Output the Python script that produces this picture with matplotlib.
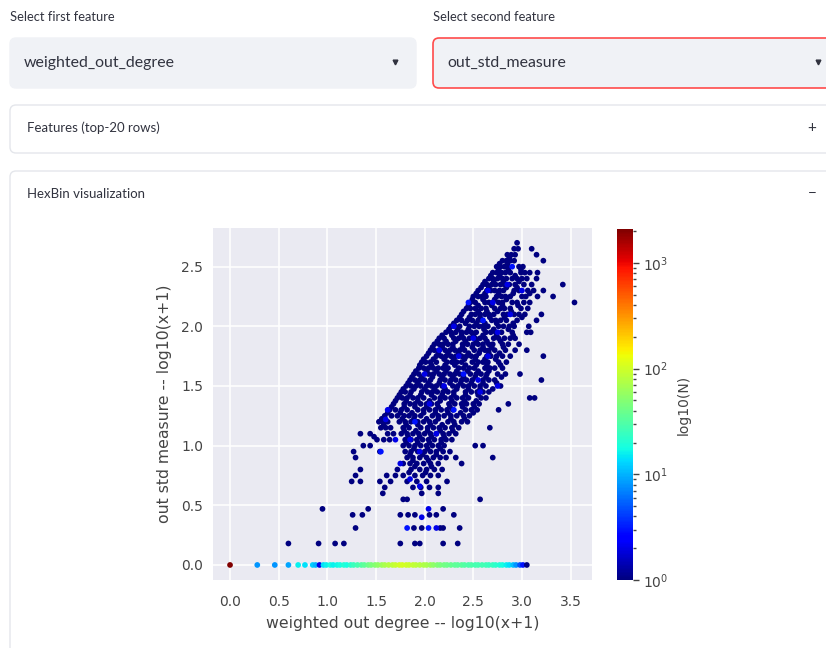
import matplotlib
matplotlib.use("Agg")
import matplotlib.pyplot as plt
from matplotlib.colors import LogNorm
from matplotlib.patches import FancyBboxPatch
import numpy as np

W, H = 826, 648

# ── Hexbin cells (bin centres, counts) ────────────────────────────────────────
# row of zero std (y = 0): x position and count per cell
zero_x = [0.00, 0.28, 0.46, 0.60, 0.70, 0.77, 0.85, 0.88, 0.92,
          0.96, 0.99, 1.03, 1.06, 1.10, 1.13, 1.17, 1.20, 1.24, 1.27,
          1.31, 1.35, 1.38, 1.42, 1.45, 1.49, 1.52, 1.56, 1.59, 1.63,
          1.67, 1.70, 1.74, 1.77, 1.81, 1.84, 1.88, 1.91, 1.95, 1.99,
          2.02, 2.06, 2.09, 2.13, 2.16, 2.20, 2.23, 2.27, 2.31, 2.34,
          2.38, 2.41, 2.45, 2.48, 2.52, 2.55, 2.59, 2.63, 2.66, 2.70,
          2.73, 2.77, 2.80, 2.84, 2.87, 2.91, 2.94, 2.98, 3.01, 3.05]
zero_n = [2100, 8, 8, 9, 16, 14, 12, 10, 2,
          14, 16, 18, 16, 17, 18, 20, 18, 22, 25,
          28, 32, 35, 40, 45, 50, 55, 62, 70, 78,
          85, 92, 100, 105, 100, 95, 90, 85, 80, 75,
          70, 62, 55, 50, 45, 42, 40, 38, 36, 35,
          33, 32, 30, 30, 28, 28, 27, 26, 25, 24,
          22, 20, 18, 16, 14, 11, 8, 5, 3, 1]

# single-count cells, grouped by row level
cloud_y = [2.70, 2.65, 2.60, 2.55, 2.50, 2.45, 2.40, 2.35, 2.30, 2.25,
           2.20, 2.15, 2.10, 2.05, 2.00, 1.95, 1.90, 1.85, 1.80, 1.75,
           1.70, 1.65, 1.60, 1.55, 1.50, 1.45, 1.40, 1.35, 1.30, 1.25,
           1.20, 1.15, 1.10, 1.05, 1.00, 0.95, 0.90, 0.85, 0.80, 0.75,
           0.70, 0.65, 0.60, 0.55, 0.47, 0.42, 0.31, 0.18]
cloud_x = [
    [2.95],
    [2.92, 2.96, 3.10],
    [2.85, 2.89, 2.93, 3.15],
    [2.80, 2.84, 2.88, 2.92, 3.22],
    [2.74, 2.78, 2.82, 2.86, 2.97, 3.01],
    [2.70, 2.74, 2.79, 2.83, 2.88, 2.99, 3.03, 3.08, 3.16],
    [2.66, 2.70, 2.75, 2.80, 2.84, 2.90, 2.95, 3.00, 3.05, 3.15],
    [2.60, 2.64, 2.69, 2.73, 2.78, 2.82, 2.87, 2.93, 3.02, 3.10, 3.42],
    [2.55, 2.64, 2.68, 2.72, 2.77, 2.81, 2.92, 2.97, 3.06, 3.12, 3.22],
    [2.50, 2.55, 2.59, 2.63, 2.74, 2.79, 2.83, 2.88, 3.00, 3.04, 3.16, 3.32],
    [2.47, 2.52, 2.62, 2.66, 2.70, 2.76, 2.80, 2.90, 2.95, 3.02, 3.08, 3.54],
    [2.43, 2.47, 2.52, 2.58, 2.63, 2.72, 2.78, 2.82, 2.88, 2.99, 3.06],
    [2.38, 2.48, 2.52, 2.57, 2.62, 2.66, 2.71, 2.81, 2.85, 2.92, 2.97, 3.03, 3.20],
    [2.33, 2.38, 2.44, 2.49, 2.55, 2.59, 2.69, 2.73, 2.78, 2.84, 2.95, 3.15],
    [2.27, 2.31, 2.36, 2.46, 2.51, 2.56, 2.60, 2.65, 2.76, 2.81, 2.87, 2.92, 3.07],
    [2.22, 2.27, 2.32, 2.38, 2.43, 2.48, 2.53, 2.63, 2.68, 2.73, 2.79, 2.90, 3.05, 3.09],
    [2.15, 2.20, 2.30, 2.35, 2.40, 2.46, 2.52, 2.57, 2.62, 2.71, 2.76, 2.82, 2.88, 2.93],
    [2.10, 2.15, 2.19, 2.24, 2.29, 2.39, 2.44, 2.50, 2.55, 2.60, 2.66, 2.70, 2.80, 2.86, 2.97],
    [2.06, 2.10, 2.15, 2.21, 2.26, 2.31, 2.36, 2.41, 2.51, 2.57, 2.62, 2.66, 2.72, 2.83, 2.93, 3.05],
    [2.02, 2.12, 2.17, 2.22, 2.27, 2.32, 2.38, 2.43, 2.48, 2.53, 2.64, 2.68, 2.74, 2.80, 2.88, 3.22],
    [1.97, 2.01, 2.06, 2.12, 2.23, 2.28, 2.33, 2.38, 2.49, 2.55, 2.60, 2.65, 2.76, 2.84],
    [1.94, 1.99, 2.04, 2.09, 2.14, 2.19, 2.24, 2.35, 2.40, 2.46, 2.51, 2.62, 2.67, 2.72, 2.80],
    [1.89, 1.94, 2.04, 2.09, 2.15, 2.20, 2.26, 2.31, 2.36, 2.47, 2.53, 2.58, 2.64, 2.75, 2.83, 2.98],
    [1.85, 1.90, 1.95, 2.00, 2.06, 2.16, 2.21, 2.27, 2.32, 2.38, 2.43, 2.49, 2.60, 2.66, 2.72, 3.20],
    [1.81, 1.86, 1.91, 1.96, 2.02, 2.07, 2.12, 2.18, 2.29, 2.34, 2.40, 2.45, 2.51, 2.57, 2.63, 2.78],
    [1.76, 1.80, 1.86, 1.97, 2.03, 2.08, 2.13, 2.19, 2.24, 2.30, 2.42, 2.48, 2.54, 2.60, 2.66],
    [1.72, 1.77, 1.82, 1.88, 1.93, 1.99, 2.10, 2.16, 2.21, 2.27, 2.33, 2.39, 2.45, 2.58, 2.63, 3.08, 3.13],
    [1.68, 1.79, 1.85, 1.90, 1.96, 2.02, 2.07, 2.13, 2.25, 2.31, 2.38, 2.43, 2.50, 2.56, 2.86],
    [1.64, 1.70, 1.76, 1.82, 1.93, 1.99, 2.05, 2.11, 2.17, 2.23, 2.29, 2.42, 2.48, 2.54, 2.76],
    [1.59, 1.66, 1.72, 1.79, 1.84, 1.90, 1.96, 2.08, 2.14, 2.20, 2.27, 2.33, 2.40, 2.46],
    [1.53, 1.57, 1.62, 1.74, 1.80, 1.86, 1.93, 1.99, 2.05, 2.11, 2.24, 2.30, 2.38, 2.44],
    [1.55, 1.60, 1.65, 1.78, 1.84, 1.96, 2.03, 2.09, 2.15, 2.21, 2.28, 2.35, 2.67],
    [1.34, 1.44, 1.62, 1.68, 1.76, 1.82, 1.88, 1.94, 2.00, 2.06, 2.12, 2.19, 2.25, 2.32],
    [1.51, 1.58, 1.64, 1.80, 1.86, 1.92, 1.98, 2.04, 2.10, 2.17, 2.22, 2.28],
    [1.37, 1.44, 1.78, 1.84, 1.90, 1.96, 2.02, 2.08, 2.14, 2.20, 2.52, 2.60],
    [1.27, 1.54, 1.80, 1.86, 1.93, 2.00, 2.06, 2.12, 2.19, 2.26],
    [1.29, 1.82, 1.88, 1.95, 2.02, 2.09, 2.16, 2.22, 2.32, 2.70],
    [1.78, 1.85, 1.92, 1.99, 2.06, 2.14, 2.38],
    [1.34, 1.72, 1.86, 1.95, 2.02, 2.10, 2.18],
    [1.29, 1.61, 1.70, 1.78, 1.90, 1.98, 2.06, 2.14],
    [1.25, 1.34, 1.54, 1.65, 1.82, 1.92, 2.02, 2.23],
    [1.59, 1.88, 1.96, 2.05, 2.14],
    [1.57, 1.97, 2.14],
    [1.78, 1.82, 2.57],
    [0.95, 1.42, 2.19],
    [1.26, 1.36, 1.75, 1.83, 1.90, 2.05, 2.12, 2.30],
    [1.29, 1.89, 1.97, 2.16, 2.19, 2.36],
    [0.60, 0.91, 1.08, 1.17, 1.75, 1.90, 1.95, 2.19, 2.34],
]

# offset lattice of single-count cells (half a row up)
cloud_y2 = [2.575, 2.525, 2.475, 2.425, 2.375, 2.325, 2.275, 2.225, 2.175, 2.125,
            2.075, 2.025, 1.975, 1.925, 1.875, 1.825, 1.775, 1.725, 1.675, 1.625,
            1.575, 1.525, 1.475, 1.425, 1.375, 1.325, 1.275, 1.225, 1.175, 1.125,
            1.075, 1.025, 0.975, 0.925, 0.875, 0.825, 0.775]
cloud_x2 = [
    [2.87],
    [2.77, 2.85],
    [2.76, 2.86, 2.99],
    [2.68, 2.77, 2.93],
    [2.62, 2.71, 2.81, 2.97],
    [2.58, 2.66, 2.84, 2.95],
    [2.53, 2.62, 2.76, 2.91, 3.08],
    [2.49, 2.60, 2.72, 2.84],
    [2.45, 2.55, 2.69, 2.80, 2.96],
    [2.40, 2.55, 2.64, 2.75, 2.89],
    [2.36, 2.46, 2.57, 2.67, 2.82, 3.00],
    [2.30, 2.42, 2.53, 2.62, 2.74, 2.91],
    [2.25, 2.34, 2.45, 2.61, 2.71, 2.86],
    [2.18, 2.28, 2.38, 2.50, 2.60, 2.74, 2.91],
    [2.13, 2.22, 2.32, 2.42, 2.53, 2.64, 2.78],
    [2.08, 2.18, 2.29, 2.39, 2.49, 2.60, 2.69, 2.81],
    [2.04, 2.14, 2.24, 2.35, 2.45, 2.56, 2.66, 2.77],
    [1.99, 2.09, 2.20, 2.30, 2.41, 2.52, 2.62, 2.73],
    [1.95, 2.07, 2.21, 2.31, 2.42, 2.53, 2.64, 2.78],
    [1.91, 2.02, 2.12, 2.22, 2.33, 2.44, 2.55, 2.66],
    [1.87, 1.97, 2.08, 2.18, 2.29, 2.40, 2.52, 2.63, 2.79],
    [1.83, 1.93, 2.04, 2.15, 2.26, 2.37, 2.48, 2.60, 2.74],
    [1.78, 1.89, 2.00, 2.10, 2.21, 2.33, 2.45, 2.57, 2.70],
    [1.74, 1.85, 1.96, 2.07, 2.18, 2.30, 2.42, 2.55],
    [1.70, 1.81, 1.93, 2.05, 2.16, 2.28, 2.41, 2.53],
    [1.66, 1.79, 1.90, 2.02, 2.14, 2.26, 2.39, 2.51],
    [1.62, 1.75, 1.87, 1.99, 2.11, 2.24, 2.37, 2.50],
    [1.56, 1.77, 1.89, 2.02, 2.14, 2.27, 2.41],
    [1.58, 1.81, 1.93, 2.06, 2.18, 2.31],
    [1.79, 1.91, 2.03, 2.16, 2.29],
    [1.48, 1.83, 1.95, 2.07, 2.20],
    [1.81, 1.93, 2.05, 2.17],
    [1.89, 2.03, 2.16],
    [1.85, 1.98, 2.12],
    [1.88, 2.04],
    [1.90, 2.07],
    [1.84, 2.01],
]

# cells holding 2-3 rows
multi_x = [2.85, 2.60, 2.50, 2.35, 2.40, 2.20, 2.05, 1.90, 1.85, 1.75,
           1.85, 1.95, 1.60, 1.55, 2.65, 2.75, 2.70, 2.45, 2.30, 2.55,
           2.75, 2.04, 2.04, 1.82, 1.97, 2.12, 2.00, 2.15, 2.30, 1.70,
           1.95, 2.65, 2.90, 3.00, 2.57, 2.88, 2.12, 1.62]
multi_y = [2.35, 2.05, 1.90, 1.75, 1.60, 1.50, 1.35, 1.20, 1.05, 0.85,
           0.72, 0.66, 1.22, 0.95, 1.75, 1.95, 2.20, 2.20, 2.00, 1.55,
           1.50, 0.47, 0.31, 0.31, 0.40, 0.31, 1.60, 1.80, 1.30, 1.05,
           0.95, 2.30, 2.50, 2.30, 1.45, 2.10, 1.10, 1.30]
multi_n = [2, 3, 2, 2, 3, 2, 2, 3, 2, 2,
           2, 2, 2, 3, 2, 2, 2, 3, 2, 2,
           2, 2, 3, 3, 2, 2, 2, 2, 3, 2,
           2, 2, 3, 2, 2, 2, 2, 2]

x_ticks = [0.0, 0.5, 1.0, 1.5, 2.0, 2.5, 3.0, 3.5]
y_ticks = [0.0, 0.5, 1.0, 1.5, 2.0, 2.5]

single_x = [x for row in cloud_x + cloud_x2 for x in row]
single_y = ([y for y, row in zip(cloud_y, cloud_x) for _ in row]
            + [y for y, row in zip(cloud_y2, cloud_x2) for _ in row])

# ── Page chrome ───────────────────────────────────────────────────────────────
TXT = "#31333F"
UI_FONT = "Lato"

fig = plt.figure(figsize=(W / 100, H / 100), dpi=100)
fig.patch.set_facecolor("white")
ui = fig.add_axes([0, 0, 1, 1])
ui.set_xlim(0, W)
ui.set_ylim(H, 0)
ui.axis("off")


def box(x0, y0, x1, y1, face, edge, lw=1.0):
    ui.add_patch(FancyBboxPatch((x0, y0), x1 - x0, y1 - y0,
                                boxstyle="round,pad=0,rounding_size=6",
                                fc=face, ec=edge, lw=lw))


ui.text(10, 17, "Select first feature", fontsize=9.3, color=TXT,
        family=UI_FONT, va="center")
ui.text(433, 17, "Select second feature", fontsize=9.3, color=TXT,
        family=UI_FONT, va="center")

box(10, 38, 416, 88, "#F0F2F6", "#F0F2F6")
box(433, 38, 840, 88, "#F0F2F6", "#FF4B4B", lw=1.2)
ui.text(24, 63, "weighted_out_degree", fontsize=11.4, color=TXT,
        family=UI_FONT, va="center")
ui.text(447, 63, "out_std_measure", fontsize=11.4, color=TXT,
        family=UI_FONT, va="center")
ui.plot([395, 818], [62, 62], ls="none", marker="v", ms=3.4, color=TXT)

box(10, 105, 840, 153, "white", "#E4E6EB")
ui.text(27, 128, "Features (top-20 rows)", fontsize=9.5, color=TXT,
        family=UI_FONT, va="center")
ui.text(812, 128, "+", fontsize=11, color=TXT, family=UI_FONT,
        va="center", ha="center")

box(10, 171, 840, 700, "white", "#E4E6EB")
ui.text(27, 194, "HexBin visualization", fontsize=9.5, color=TXT,
        family=UI_FONT, va="center")
ui.text(812, 194, "−", fontsize=11, color=TXT, family=UI_FONT,
        va="center", ha="center")

# ── HexBin chart ──────────────────────────────────────────────────────────────
INK = "#444444"
ax = fig.add_axes([213 / W, 1 - 580 / H, 379 / W, 352 / H])
ax.set_facecolor("#EAEAF2")
for s in ax.spines.values():
    s.set_visible(False)
ax.grid(True, color="white", lw=1.1)
ax.set_axisbelow(True)

norm = LogNorm(vmin=1, vmax=2100)
cmap = plt.get_cmap("jet")
ax.scatter(single_x, single_y, c=np.ones(len(single_x)), cmap=cmap, norm=norm,
           s=17, linewidths=0)
ax.scatter(multi_x, multi_y, c=multi_n, cmap=cmap, norm=norm, s=17, linewidths=0)
sc = ax.scatter(zero_x, np.zeros(len(zero_x)), c=zero_n, cmap=cmap, norm=norm,
                s=17, linewidths=0)

ax.set_xlim(-0.175, 3.72)
ax.set_ylim(-0.126, 2.824)
ax.set_xticks(x_ticks)
ax.set_yticks(y_ticks)
ax.tick_params(length=0, labelsize=10, labelcolor=INK, pad=7)
ax.tick_params(axis="x", pad=11)
ax.set_xlabel("weighted out degree -- log10(x+1)", fontsize=11.3, color=INK,
              labelpad=5)
ax.set_ylabel("out std measure -- log10(x+1)", fontsize=11.3, color=INK,
              labelpad=7)

cax = fig.add_axes([617 / W, 1 - 580 / H, 16 / W, 351 / H])
cb = fig.colorbar(sc, cax=cax)
cb.outline.set_visible(False)
cax.tick_params(which="major", length=4, width=1, colors=INK, labelsize=10)
cax.tick_params(which="minor", length=2, width=1, colors=INK)
cb.set_label("log10(N)", fontsize=10, color=INK, labelpad=6)

fig.savefig("out.png", dpi=100, facecolor="white")
